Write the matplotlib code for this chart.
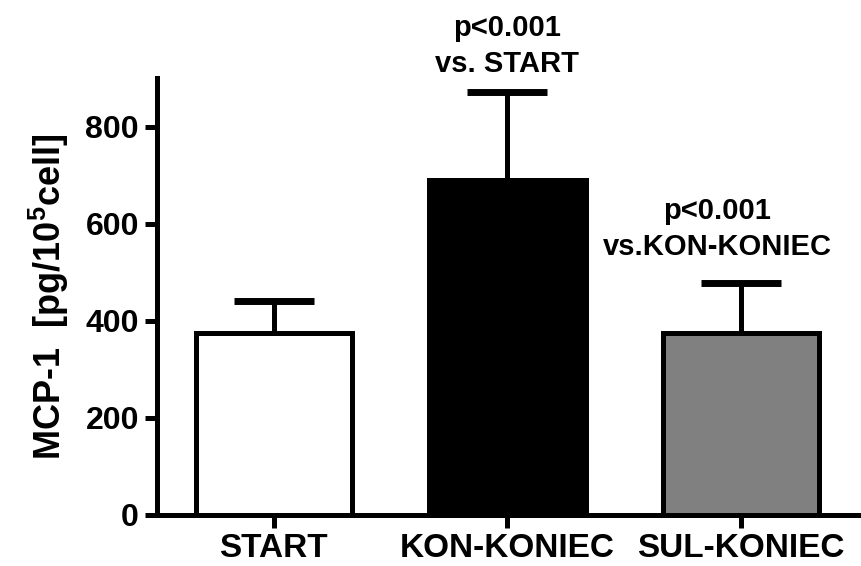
import matplotlib.pyplot as plt
import numpy as np

plt.rcParams['font.family'] = ['Liberation Sans', 'DejaVu Sans']
plt.rcParams['font.weight'] = 'bold'
plt.rcParams['mathtext.fontset'] = 'custom'
plt.rcParams['mathtext.bf'] = 'Liberation Sans:bold'
plt.rcParams['mathtext.rm'] = 'Liberation Sans:bold'

groups = ['START', 'KON-KONIEC', 'SUL-KONIEC']
mcp1_mean = [375, 690, 375]
mcp1_sd = [65, 182, 103]
bar_colors = ['white', 'black', '#808080']
notes = ['', 'p<0.001\nvs. START', 'p<0.001\nvs.KON-KONIEC']

fig = plt.figure(figsize=(8.61, 5.66), dpi=100)
ax = fig.add_axes([157 / 861, 1 - 515 / 566, (860 - 157) / 861, (515 - 78) / 566])

x = np.arange(len(groups))
lw = 3.6

# only the upper half of the SD is shown
eb = ax.errorbar(x, mcp1_mean, yerr=[np.zeros(len(x)), mcp1_sd], fmt='none',
                 ecolor='black', elinewidth=lw, capsize=29, capthick=5, zorder=1)
eb[1][0].set_visible(False)
ax.bar(x, mcp1_mean, width=0.67, color=bar_colors, edgecolor='black',
       linewidth=lw, zorder=2)

# significance notes above the error bars
ax.text(x[1], 900, notes[1], ha='center', va='bottom', fontsize=21,
        fontweight='bold', linespacing=1.35, clip_on=False)
ax.text(x[2] - 0.1, 523, notes[2], ha='center', va='bottom', fontsize=21,
        fontweight='bold', linespacing=1.35)

ax.set_xlim(-0.5, 2.51)
ax.set_ylim(0, 900)
ax.set_yticks([0, 200, 400, 600, 800])
ax.set_xticks(x)
ax.set_xticklabels(groups, fontsize=24)
ax.set_ylabel(r'MCP-1  [pg/10$^{\mathbf{5}}$cell]', fontsize=26, fontweight='bold', labelpad=10)

for side in ['top', 'right']:
    ax.spines[side].set_visible(False)
for side in ['left', 'bottom']:
    ax.spines[side].set_linewidth(lw)

ax.tick_params(axis='both', width=lw, length=9, pad=4)
ax.tick_params(axis='y', labelsize=23)
for lab in ax.get_xticklabels() + ax.get_yticklabels():
    lab.set_fontweight('bold')

fig.savefig('out.png', dpi=100)
